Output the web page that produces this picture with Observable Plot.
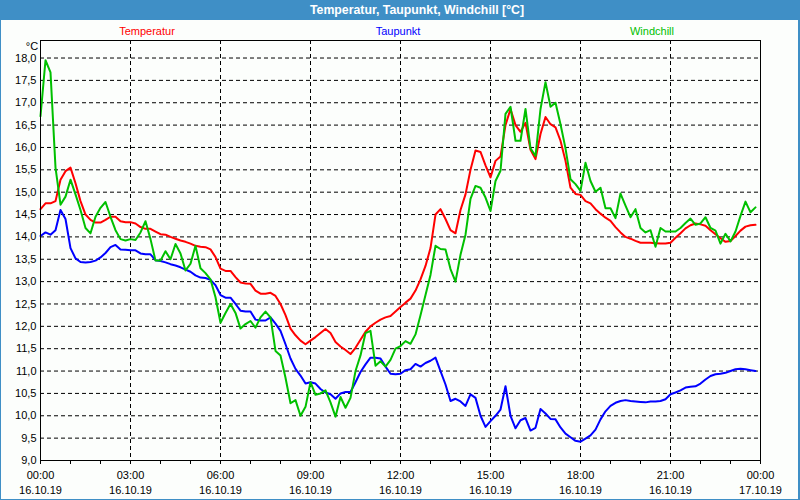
<!DOCTYPE html>
<html><head><meta charset="utf-8">
<script src="https://cdn.jsdelivr.net/npm/d3@7"></script>
<script src="https://cdn.jsdelivr.net/npm/@observablehq/plot@0.6"></script>
<style>
html,body{margin:0;padding:0;background:#fcfefc}
#wrap{position:relative;width:800px;height:500px;background:#fcfefc;overflow:hidden;font-family:"Liberation Sans",Arial,sans-serif}
#titlebar{position:absolute;left:0;top:0;width:800px;height:20px;background:#3f8fc6}
#titlebar span{position:absolute;left:417px;top:10px;transform:translate(-50%,-50%);color:#fff;font-weight:bold;font-size:12.3px;font-family:"Liberation Sans Narrow","Liberation Sans",sans-serif;white-space:nowrap}
.leg{position:absolute;top:31px;transform:translate(-50%,-50%);font-size:11px;white-space:nowrap;line-height:1}
#unit{position:absolute;left:32px;top:46px;transform:translate(-50%,-50%);font-size:11px;line-height:1}
#chart{position:absolute;left:0;top:20px}
#border{position:absolute;left:0;top:0;width:800px;height:500px;box-sizing:border-box;border:1px solid #3f8fc6;border-right-width:2px;pointer-events:none}
</style>
</head><body>
<div id="wrap">
  <div id="titlebar"><span id="title"></span></div>
  <div id="legend"></div>
  <div id="unit"></div>
  <div id="chart"></div>
  <div id="border"></div>
</div>
<script>
// ---- data ----
const title = "Temperatur, Taupunkt, Windchill [°C]";
const unitLabel = "°C";
const seriesNames = ["Temperatur", "Taupunkt", "Windchill"];
const seriesColors = ["#ff0000", "#0000ff", "#00c000"];
const legendCenters = [147, 398, 652];

// 10-minute readings, 16.10.19 00:00 .. 23:50
const temperatur = [
14.62,14.75,14.75,14.8,15.28,15.47,15.55,15.2,14.8,14.5,14.38,14.32,14.32,14.38,14.45,14.45,14.35,14.33,14.33,14.3,14.22,14.18,14.18,14.12,14.06,14.05,14.0,13.96,13.92,13.89,13.85,13.8,13.78,13.77,13.72,13.55,
13.29,13.24,13.24,13.1,12.98,12.96,12.95,12.8,12.73,12.73,12.75,12.68,12.5,12.25,11.95,11.8,11.68,11.6,11.68,11.76,11.85,11.94,11.85,11.65,11.55,11.47,11.38,11.52,11.7,11.88,12.0,12.08,12.15,12.2,12.23,12.33,
12.43,12.53,12.62,12.8,13.05,13.35,13.75,14.5,14.62,14.4,14.15,14.08,14.6,14.95,15.5,15.93,15.9,15.6,15.33,15.7,15.8,16.5,16.86,16.5,16.35,16.55,15.95,15.74,16.3,16.68,16.52,16.45,16.15,15.7,15.1,14.96,
14.94,14.8,14.75,14.62,14.52,14.43,14.36,14.22,14.1,14.0,13.96,13.91,13.87,13.87,13.87,13.86,13.85,13.85,13.87,13.98,14.08,14.19,14.26,14.3,14.28,14.25,14.15,14.06,13.97,13.89,13.91,14.02,14.14,14.23,14.26,14.27
];
const taupunkt = [
14.02,14.1,14.05,14.15,14.6,14.4,13.75,13.52,13.44,13.43,13.44,13.47,13.54,13.64,13.77,13.82,13.72,13.71,13.7,13.7,13.63,13.61,13.61,13.48,13.46,13.43,13.39,13.36,13.32,13.27,13.22,13.14,13.09,13.08,13.04,12.92,
12.7,12.64,12.64,12.5,12.35,12.33,12.33,12.15,12.13,12.13,12.2,12.06,11.9,11.6,11.28,11.05,10.9,10.72,10.75,10.72,10.6,10.52,10.48,10.38,10.5,10.53,10.53,10.75,10.98,11.15,11.3,11.3,11.28,11.1,10.94,10.93,
10.94,11.02,11.04,11.16,11.1,11.18,11.23,11.3,11.0,10.7,10.33,10.38,10.32,10.22,10.48,10.4,10.0,9.75,9.88,10.0,10.14,10.66,10.0,9.72,9.9,9.95,9.67,9.73,10.15,10.05,9.93,9.92,9.74,9.6,9.52,9.44,
9.42,9.49,9.56,9.69,9.92,10.1,10.22,10.29,10.33,10.35,10.33,10.32,10.31,10.3,10.32,10.32,10.33,10.37,10.48,10.52,10.57,10.63,10.65,10.66,10.72,10.81,10.89,10.93,10.94,10.96,11.0,11.04,11.05,11.04,11.02,11.0
];
const windchill = [
16.7,17.95,17.68,15.55,14.72,14.9,15.28,14.95,14.6,14.2,14.08,14.45,14.65,14.78,14.45,14.15,13.95,13.92,13.95,13.93,14.1,14.35,13.95,13.47,13.47,13.68,13.5,13.84,13.63,13.25,13.4,13.8,13.3,13.19,13.05,12.65,
12.08,12.3,12.5,12.3,11.95,12.05,12.12,11.97,12.2,12.33,12.2,11.45,11.35,10.85,10.28,10.35,10.0,10.2,10.75,10.47,10.5,10.57,10.3,9.98,10.42,10.18,10.4,11.0,11.35,11.85,11.9,11.12,11.22,11.1,11.25,11.5,
11.56,11.67,11.61,11.82,12.25,12.7,13.15,13.8,13.73,13.72,13.28,13.0,13.6,14.05,14.85,15.14,15.1,14.88,14.58,15.25,15.48,16.75,16.91,16.15,16.15,16.86,15.98,15.81,16.86,17.46,16.91,17.0,16.52,15.98,15.29,15.18,
15.03,15.66,15.25,15.01,15.1,14.64,14.64,14.42,14.97,14.7,14.44,14.62,14.2,14.1,14.15,13.78,14.2,14.12,14.12,14.12,14.2,14.31,14.41,14.27,14.3,14.44,14.2,14.14,13.85,14.07,13.9,14.12,14.47,14.79,14.55,14.66
];

const yTicks = [9,9.5,10,10.5,11,11.5,12,12.5,13,13.5,14,14.5,15,15.5,16,16.5,17,17.5,18];
const yTickLabels = ["9,0","9,5","10,0","10,5","11,0","11,5","12,0","12,5","13,0","13,5","14,0","14,5","15,0","15,5","16,0","16,5","17,0","17,5","18,0"];
const xTimeLabels = ["00:00","03:00","06:00","09:00","12:00","15:00","18:00","21:00","00:00"];
const xDateLabels = ["16.10.19","16.10.19","16.10.19","16.10.19","16.10.19","16.10.19","16.10.19","16.10.19","17.10.19"];

// ---- build ----
const start = Date.UTC(2019, 9, 16);
const H = 3600000;
const times = d3.range(temperatur.length).map(i => new Date(start + i * 600000));
const valueSets = [temperatur, taupunkt, windchill];
const tables = valueSets.map(vals => vals.map((v, i) => ({t: times[i], v})));
const majorTicks = xTimeLabels.map((_, i) => new Date(start + i * 3 * H));
const hourTicks = d3.range(25).map(i => new Date(start + i * H));

document.getElementById("title").textContent = title;
document.getElementById("unit").textContent = unitLabel;
const legend = document.getElementById("legend");
seriesNames.forEach((n, i) => {
  const s = document.createElement("span");
  s.className = "leg";
  s.textContent = n;
  s.style.left = legendCenters[i] + "px";
  s.style.color = seriesColors[i];
  legend.appendChild(s);
});

const majorIndex = d => Math.round((d - start) / (3 * H));
const grid = {stroke: "black", strokeOpacity: 1, strokeDasharray: "4,3", strokeWidth: 1};

const chart = Plot.plot({
  width: 800,
  height: 478,
  marginLeft: 40,
  marginRight: 40,
  marginTop: 20,
  marginBottom: 38,
  style: {fontFamily: "Liberation Sans, Arial, sans-serif", fontSize: "11px", background: "transparent", color: "black", overflow: "visible"},
  x: {type: "utc", domain: [new Date(start), new Date(start + 24 * H)]},
  y: {domain: [9, 9 + 420 / 44.72]},
  marks: [
    Plot.gridY(yTicks, grid),
    Plot.gridX(majorTicks, grid),
    Plot.axisY(yTicks, {tickSize: 0, tickPadding: 4, label: null, tickFormat: d => yTickLabels[Math.round((d - 9) * 2)]}),
    Plot.axisX(hourTicks, {tickSize: 4, label: null, tickFormat: () => ""}),
    Plot.axisX(majorTicks, {tickSize: 0, tickPadding: 11, label: null, tickFormat: d => xTimeLabels[majorIndex(d)]}),
    Plot.axisX(majorTicks, {tickSize: 0, tickPadding: 26, label: null, tickFormat: d => xDateLabels[majorIndex(d)]}),
    Plot.line(tables[0], {x: "t", y: "v", stroke: seriesColors[0], strokeWidth: 2}),
    Plot.line(tables[1], {x: "t", y: "v", stroke: seriesColors[1], strokeWidth: 2}),
    Plot.line(tables[2], {x: "t", y: "v", stroke: seriesColors[2], strokeWidth: 2}),
    Plot.frame({stroke: "black", strokeWidth: 1})
  ]
});
document.getElementById("chart").appendChild(chart);
</script>
</body></html>
